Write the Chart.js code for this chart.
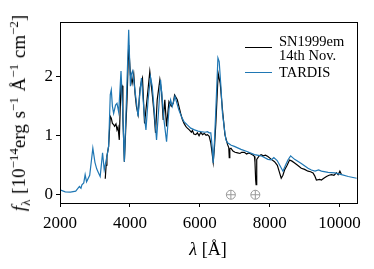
<!DOCTYPE html>
<html>
<head>
<meta charset="utf-8">
<script src="https://cdn.jsdelivr.net/npm/chart.js@4.4.1/dist/chart.umd.min.js"></script>
<style>
  body { margin: 0; background: #fff; }
  #wrap { position: relative; width: 374px; height: 269px; font-family: "Liberation Serif", "DejaVu Serif", serif; color: #000; }
  canvas { position: absolute; left: 0; top: 0; }
  .ylab { position: absolute; left: 20px; top: 113px; transform: translate(-50%, -50%) rotate(-90deg); white-space: nowrap; font-size: 19px; word-spacing: 1px; }
  .xlab { position: absolute; left: 208px; top: 249px; transform: translate(-50%, -50%); white-space: nowrap; font-size: 18px; }
  .ylab sup, .ylab sub { font-size: 13px; }
  .leg { position: absolute; font-size: 14.5px; line-height: 14px; white-space: nowrap; }
  .swatch { position: absolute; width: 27px; height: 0; border-top: 1.3px solid; }
</style>
</head>
<body>
<div id="wrap">
  <canvas id="spec" width="374" height="269"></canvas>
  <div class="ylab"><i>f</i><sub>λ</sub> [10<sup>−14</sup>erg s<sup>−1</sup> Å<sup>−1</sup> cm<sup>−2</sup>]</div>
  <div class="xlab"><i>λ</i> [Å]</div>
  <div class="swatch" style="left:245px; top:47px; border-color:#000;"></div>
  <div class="leg" style="left:279px; top:34px;">SN1999em<br>14th Nov.</div>
  <div class="swatch" style="left:245px; top:72px; border-color:#1f77b4;"></div>
  <div class="leg" style="left:279px; top:65px;">TARDIS</div>
</div>
<script>
// TARDIS model spectrum (Å, 1e-14 erg/s/Å/cm2)
const tardisWave = [2000, 2150, 2300, 2450, 2556, 2600, 2627, 2680, 2720, 2760, 2850, 2940, 3000, 3050, 3103, 3150, 3218, 3266, 3343, 3391, 3439, 3468, 3500, 3535, 3590, 3631, 3680, 3746, 3790, 3842, 3900, 3966, 4015, 4044, 4080, 4130, 4180, 4235, 4290, 4331, 4380, 4427, 4460, 4520, 4590, 4640, 4700, 4763, 4830, 4878, 4930, 4975, 5050, 5120, 5165, 5213, 5290, 5400, 5480, 5548, 5650, 5740, 5850, 5950, 6030, 6150, 6220, 6270, 6316, 6350, 6385, 6420, 6460, 6520, 6556, 6605, 6650, 6720, 6748, 6796, 6900, 6990, 7180, 7370, 7565, 7755, 7950, 8045, 8120, 8215, 8270, 8380, 8460, 8523, 8600, 8715, 8906, 9098, 9194, 9300, 9400, 9482, 9674, 9866, 10058, 10250, 10490];
const tardisFlux = [0.085, 0.05, 0.045, 0.06, 0.14, 0.11, 0.17, 0.20, 0.34, 0.22, 0.33, 0.79, 0.55, 0.44, 0.37, 0.31, 0.71, 0.42, 0.65, 0.82, 1.70, 1.78, 1.50, 1.38, 1.52, 1.55, 1.40, 2.10, 1.50, 0.56, 1.60, 2.80, 1.84, 2.05, 2.10, 1.84, 1.60, 1.33, 1.75, 1.98, 1.60, 1.27, 1.10, 1.60, 2.00, 1.84, 1.40, 0.93, 1.50, 1.95, 1.60, 1.27, 0.90, 1.45, 1.61, 1.50, 1.67, 1.44, 1.32, 1.24, 1.18, 1.13, 1.10, 1.08, 1.07, 1.06, 1.07, 1.05, 1.05, 0.85, 0.54, 0.90, 1.44, 2.32, 2.26, 1.84, 1.38, 1.05, 0.93, 0.88, 0.84, 0.82, 0.77, 0.73, 0.68, 0.66, 0.60, 0.59, 0.63, 0.58, 0.52, 0.40, 0.51, 0.59, 0.66, 0.60, 0.53, 0.45, 0.42, 0.40, 0.42, 0.40, 0.38, 0.37, 0.34, 0.31, 0.28];

// SN1999em observed spectrum, 14th Nov.
const obsWave = [3295, 3320, 3343, 3391, 3439, 3468, 3500, 3535, 3560, 3602, 3631, 3660, 3697, 3720, 3746, 3775, 3800, 3842, 3880, 3918, 3966, 4015, 4044, 4063, 4110, 4150, 4187, 4235, 4290, 4330, 4360, 4420, 4470, 4500, 4570, 4638, 4690, 4734, 4782, 4858, 4906, 4954, 5000, 5050, 5118, 5185, 5240, 5280, 5357, 5453, 5500, 5550, 5600, 5645, 5700, 5760, 5790, 5830, 5886, 5933, 5980, 6030, 6077, 6130, 6180, 6220, 6270, 6316, 6350, 6385, 6420, 6460, 6527, 6585, 6650, 6720, 6796, 6830, 6844, 6860, 6892, 6950, 7010, 7084, 7150, 7200, 7275, 7340, 7400, 7468, 7530, 7565, 7580, 7600, 7612, 7630, 7700, 7755, 7820, 7880, 7950, 8050, 8140, 8220, 8270, 8331, 8380, 8427, 8500, 8570, 8640, 8715, 8800, 8906, 9000, 9098, 9170, 9242, 9290, 9338, 9433, 9480, 9550, 9626, 9700, 9770, 9840, 9914, 9960, 10010, 10058];
const obsFlux = [0.27, 0.50, 0.65, 0.82, 1.33, 1.30, 1.21, 1.19, 1.16, 1.20, 1.10, 1.15, 0.93, 1.40, 1.89, 1.85, 1.30, 0.56, 1.10, 1.61, 2.54, 2.03, 1.95, 1.89, 2.05, 1.70, 1.50, 1.36, 1.80, 1.92, 1.98, 1.21, 1.50, 1.67, 2.09, 1.72, 1.40, 1.05, 1.61, 1.95, 1.75, 1.27, 1.61, 1.16, 1.58, 1.50, 1.55, 1.69, 1.61, 1.38, 1.28, 1.21, 1.16, 1.13, 1.10, 1.06, 1.09, 1.03, 1.02, 1.05, 1.00, 1.06, 1.02, 1.04, 1.01, 1.02, 0.99, 0.88, 0.72, 0.55, 0.80, 1.21, 2.06, 1.89, 1.44, 1.02, 0.85, 0.80, 0.63, 0.78, 0.79, 0.74, 0.72, 0.71, 0.70, 0.72, 0.72, 0.69, 0.71, 0.69, 0.67, 0.65, 0.55, 0.25, 0.17, 0.60, 0.66, 0.68, 0.66, 0.67, 0.65, 0.60, 0.56, 0.50, 0.40, 0.28, 0.33, 0.42, 0.50, 0.59, 0.57, 0.54, 0.50, 0.45, 0.43, 0.40, 0.39, 0.37, 0.32, 0.25, 0.26, 0.25, 0.28, 0.31, 0.33, 0.34, 0.33, 0.37, 0.34, 0.40, 0.34];

// telluric markers
const telluricWave = [6890, 7590];
const telluricFlux = [0, 0];

const xTicks = [2000, 4000, 6000, 8000, 10000];
const yTicks = [0, 1, 2];

const pairs = (xs, ys) => xs.map((x, i) => ({ x: x, y: ys[i] }));

const framePlugin = {
    id: "frame",
    afterDraw(chart) {
        const a = chart.chartArea, c = chart.ctx;
        c.save();
        c.strokeStyle = "#000";
        c.lineWidth = 1;
        c.strokeRect(a.left + 0.5, a.top + 0.5, a.right - a.left, a.bottom - a.top);
        c.restore();
    }
};

const tickFont = { family: "Liberation Serif", size: 17 };

new Chart(document.getElementById("spec"), {
    type: "line",
    data: {
        datasets: [
            { data: pairs(obsWave, obsFlux), borderColor: "#000", borderWidth: 1.2, pointRadius: 0, tension: 0, order: 2 },
            { data: pairs(tardisWave, tardisFlux), borderColor: "#1f77b4", borderWidth: 1.2, pointRadius: 0, tension: 0, order: 1 },
            { type: "scatter", data: pairs(telluricWave, telluricFlux), pointStyle: "circle", pointRadius: 4.5, borderColor: "#999", backgroundColor: "rgba(0,0,0,0)", borderWidth: 1, order: 0 },
            { type: "scatter", data: pairs(telluricWave, telluricFlux), pointStyle: "cross", pointRadius: 4.5, borderColor: "#999", borderWidth: 1, order: 0 }
        ]
    },
    options: {
        responsive: false,
        animation: false,
        devicePixelRatio: 1,
        layout: { padding: { left: 20, right: 17, top: 22, bottom: 36 } },
        plugins: { legend: { display: false }, tooltip: { enabled: false } },
        scales: {
            x: {
                type: "linear", min: 2000, max: 10500,
                grid: { drawOnChartArea: false, drawTicks: true, tickLength: 4, color: "#000" },
                border: { color: "#000" },
                ticks: { font: tickFont, color: "#000", padding: 6, maxRotation: 0, callback: v => String(v) },
                afterBuildTicks: s => { s.ticks = xTicks.map(v => ({ value: v })); },
                afterFit: s => { s.height = 30; }
            },
            y: {
                type: "linear", min: -0.14, max: 2.93,
                grid: { drawOnChartArea: false, drawTicks: true, tickLength: 4, color: "#000" },
                border: { color: "#000" },
                ticks: { font: tickFont, color: "#000", padding: 3, callback: v => String(v) },
                afterBuildTicks: s => { s.ticks = yTicks.map(v => ({ value: v })); },
                afterFit: s => { s.width = 40; }
            }
        }
    },
    plugins: [framePlugin]
});
</script>
</body>
</html>
